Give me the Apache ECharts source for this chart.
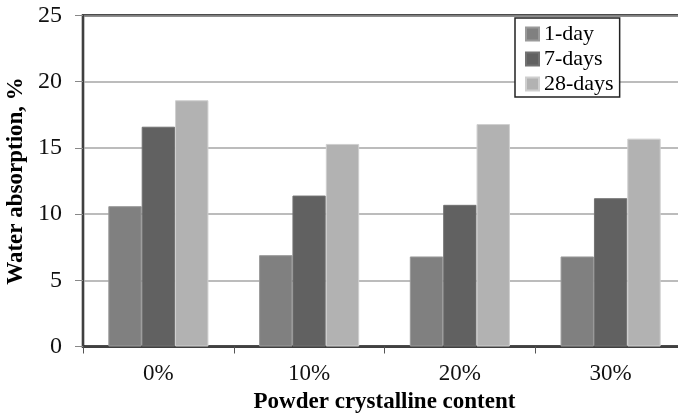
<!DOCTYPE html>
<html>
<head>
<meta charset="utf-8">
<script src="https://cdn.jsdelivr.net/npm/echarts@6/dist/echarts.min.js"></script>
<style>html,body{margin:0;padding:0;background:#fff;}#c{width:678px;height:416px;}</style>
</head>
<body>
<div id="c"></div>
<script>
var categories = ['0%', '10%', '20%', '30%'];
var day1 = [10.6, 6.9, 6.8, 6.8];
var day7 = [16.6, 11.4, 10.7, 11.2];
var day28 = [18.6, 15.3, 16.8, 15.7];
var seriesNames = ['1-day', '7-days', '28-days'];

var FONT = "'Liberation Serif', 'Times New Roman', serif";
var chart = echarts.init(document.getElementById('c'), null, {renderer: 'canvas'});
chart.setOption({
  animation: false,
  backgroundColor: '#fff',
  textStyle: {fontFamily: FONT},
  grid: {left: 83, top: 15.5, width: 603, height: 331, show: true, borderColor: '#111', borderWidth: 2.5,
         backgroundColor: 'transparent', outerBoundsMode: 'none', containLabel: false},
  legend: {
    orient: 'vertical', left: 515, top: 18,
    padding: [5, 6, 2, 10], itemGap: 3,
    itemWidth: 13, itemHeight: 13, icon: 'rect',
    backgroundColor: '#fff', borderColor: '#222', borderWidth: 1.5, borderRadius: 0,
    textStyle: {fontFamily: FONT, fontSize: 22, lineHeight: 22, color: '#000'},
    data: seriesNames
  },
  xAxis: {
    type: 'category', data: categories,
    name: 'Powder crystalline content', nameLocation: 'middle', nameGap: 43,
    nameTextStyle: {fontFamily: FONT, fontSize: 23, fontWeight: 'bold', color: '#000'},
    axisLine: {lineStyle: {color: '#404040', width: 2}},
    axisTick: {show: true, length: 7, lineStyle: {color: '#555', width: 1}},
    axisLabel: {margin: 16, fontFamily: FONT, fontSize: 23, color: '#111'}
  },
  yAxis: {
    type: 'value', min: 0, max: 25, interval: 5,
    name: 'Water absorption, %', nameLocation: 'middle', nameGap: 51,
    nameTextStyle: {fontFamily: FONT, fontSize: 23, fontWeight: 'bold', color: '#000'},
    axisLine: {show: true, lineStyle: {color: '#404040', width: 2}},
    axisTick: {show: true, length: 8, lineStyle: {color: '#888', width: 1}},
    axisLabel: {margin: 21, fontFamily: FONT, fontSize: 24, color: '#111'},
    splitLine: {lineStyle: {color: '#a6a6a6', width: 1.5}}
  },
  series: [
    {name: seriesNames[0], type: 'bar', data: day1, barGap: '0%', barCategoryGap: '33.6%',
     itemStyle: {color: '#808080', borderColor: '#9a9a9a', borderWidth: 1}},
    {name: seriesNames[1], type: 'bar', data: day7, barGap: '0%', barCategoryGap: '33.6%',
     itemStyle: {color: '#616161', borderColor: '#727272', borderWidth: 1}},
    {name: seriesNames[2], type: 'bar', data: day28, barGap: '0%', barCategoryGap: '33.6%',
     itemStyle: {color: '#b2b2b2', borderColor: '#cfcfcf', borderWidth: 1}}
  ]
});
</script>
</body>
</html>
